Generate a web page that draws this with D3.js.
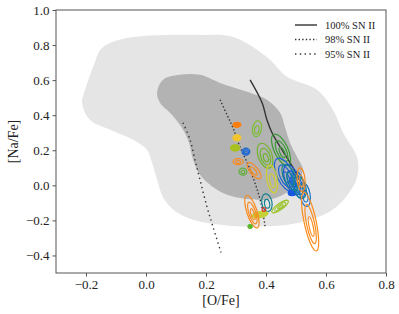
<!DOCTYPE html>
<html>
<head>
<meta charset="utf-8">
<script src="https://cdn.jsdelivr.net/npm/d3@7"></script>
<style>
  body { margin: 0; background: #fff; }
  text { font-family: "Liberation Serif", "DejaVu Serif", serif; fill: #222; }
</style>
</head>
<body>
<div id="chart"></div>
<script>
// ticks
var xTicks = [-0.2, 0.0, 0.2, 0.4, 0.6, 0.8];
var yTicks = [-0.4, -0.2, 0.0, 0.2, 0.4, 0.6, 0.8, 1.0];

// outer (light) and inner (dark) density regions, [O/Fe], [Na/Fe]
var outerO  = [-0.153, -0.12, -0.043, 0.07, 0.18, 0.29, 0.403, 0.47, 0.57, 0.623, 0.657, 0.703, 0.707, 0.69, 0.623, 0.513, 0.347, 0.18, 0.137, 0.09, 0.057, 0.037, 0.017, 0.003, -0.043, -0.12, -0.187, -0.213, -0.203, -0.17];
var outerNa = [0.772, 0.812, 0.846, 0.858, 0.858, 0.846, 0.732, 0.619, 0.545, 0.431, 0.30, 0.163, 0.078, -0.008, -0.138, -0.212, -0.235, -0.207, -0.184, -0.138, -0.07, 0.032, 0.146, 0.203, 0.26, 0.317, 0.374, 0.47, 0.545, 0.704];
var innerO  = [0.037, 0.057, 0.113, 0.18, 0.247, 0.347, 0.403, 0.447, 0.463, 0.48, 0.503, 0.523, 0.503, 0.457, 0.403, 0.29, 0.237, 0.18, 0.157, 0.14, 0.113, 0.08, 0.047];
var innerNa = [0.528, 0.602, 0.63, 0.63, 0.584, 0.528, 0.488, 0.414, 0.334, 0.243, 0.163, 0.089, 0.015, -0.053, -0.082, -0.064, -0.025, 0.061, 0.146, 0.26, 0.345, 0.414, 0.47];

// model tracks
var sn100O  = [0.347, 0.387, 0.403, 0.42, 0.447, 0.48, 0.513];
var sn100Na = [0.602, 0.471, 0.374, 0.30, 0.22, 0.129, 0.032];
var sn98O   = [0.247, 0.27, 0.29, 0.313, 0.34, 0.363, 0.383, 0.397];
var sn98Na  = [0.488, 0.402, 0.328, 0.22, 0.118, 0.015, -0.099, -0.235];
var sn95O   = [0.123, 0.147, 0.163, 0.18, 0.203, 0.223, 0.25];
var sn95Na  = [0.357, 0.26, 0.146, 0.032, -0.121, -0.235, -0.383];

var legendLabels = ["100% SN II", "98% SN II", "95% SN II"];

// star contours: centre, half widths (dex), tilt (deg), colour, rings, filled
var starO     = [0.303, 0.303, 0.297, 0.333, 0.307, 0.323, 0.36, 0.37, 0.397, 0.45, 0.463, 0.487, 0.507, 0.53, 0.487, 0.403, 0.513, 0.48, 0.42, 0.38, 0.447, 0.353, 0.517, 0.547, 0.347, 0.393];
var starNa    = [0.345, 0.271, 0.214, 0.192, 0.135, 0.078, 0.083, 0.323, 0.169, 0.203, 0.061, 0.032, 0.004, -0.053, -0.042, -0.099, -0.013, 0.044, 0.036, -0.167, -0.121, -0.15, 0.032, -0.207, -0.235, -0.138];
var starSO    = [0.013, 0.013, 0.015, 0.013, 0.017, 0.013, 0.033, 0.015, 0.023, 0.023, 0.027, 0.023, 0.02, 0.017, 0.013, 0.017, 0.02, 0.02, 0.017, 0.027, 0.033, 0.017, 0.013, 0.02, 0.007, 0.006];
var starSNa   = [0.014, 0.017, 0.017, 0.02, 0.017, 0.02, 0.023, 0.046, 0.074, 0.097, 0.102, 0.091, 0.08, 0.068, 0.017, 0.051, 0.063, 0.08, 0.08, 0.017, 0.017, 0.097, 0.068, 0.171, 0.011, 0.011];
var starTilt  = [0, 0, 0, 0, 0, 0, 51, 10, -20, -25, -25, -20, -15, -10, 0, -10, -15, -25, -10, -10, -35, -18, -5, -12, 0, 0];
var starColor = ["#fa7f12", "#f2c531", "#a9c11f", "#1966d2", "#f98a1f", "#5fae36", "#f98a1f", "#7dbe33", "#6fb52c", "#3c9c37", "#1b63d6", "#1d58cf", "#1a6ad0", "#1c72c8", "#1657e0", "#14808e", "#147f91", "#15878a", "#cfcf2c", "#c6d03a", "#9cc42a", "#f98a1f", "#f98a1f", "#fb8c1d", "#5cb82e", "#e8321e"];
var starRings = [3, 3, 3, 3, 2, 2, 2, 2, 3, 3, 3, 3, 3, 2, 2, 2, 2, 2, 2, 1, 3, 3, 2, 3, 1, 1];
var starFill  = [1, 1, 1, 0, 0, 0, 0, 0, 0, 0, 0, 0, 0, 0, 1, 0, 0, 0, 0, 1, 0, 0, 0, 0, 1, 0];

var width = 399, height = 314;
var margin = {top: 10, right: 13, bottom: 41, left: 56};

var svg = d3.select("#chart").append("svg")
  .attr("width", width)
  .attr("height", height);

var x = d3.scaleLinear().domain([-0.3, 0.8]).range([margin.left, width - margin.right]);
var y = d3.scaleLinear().domain([-0.5, 1.0]).range([height - margin.bottom, margin.top]);

svg.append("clipPath")
  .attr("id", "plotClip")
  .append("rect")
    .attr("x", x(-0.3))
    .attr("y", y(1.0))
    .attr("width", x(0.8) - x(-0.3))
    .attr("height", y(-0.5) - y(1.0));

var plot = svg.append("g").attr("clip-path", "url(#plotClip)");

function blob(os, nas, color) {
  var pts = os.map(function(o, i) { return [x(o), y(nas[i])]; });
  plot.append("path")
    .attr("d", d3.line().curve(d3.curveCatmullRomClosed.alpha(0.5))(pts))
    .attr("fill", color)
    .attr("stroke", "none");
}

blob(outerO, outerNa, "#e5e5e5");
blob(innerO, innerNa, "#b3b3b3");

function track(os, nas, dash) {
  var pts = os.map(function(o, i) { return [x(o), y(nas[i])]; });
  plot.append("path")
    .attr("d", d3.line().curve(d3.curveCatmullRom)(pts))
    .attr("fill", "none")
    .attr("stroke", "#333")
    .attr("stroke-width", 1.4)
    .attr("stroke-dasharray", dash);
}

track(sn100O, sn100Na, null);
track(sn98O, sn98Na, "1.4,2.2");
track(sn95O, sn95Na, "1.4,3.4");

// contours for each star
starO.forEach(function(o, i) {
  var cx = x(o), cy = y(starNa[i]);
  var rx = x(o + starSO[i]) - cx;
  var ry = cy - y(starNa[i] + starSNa[i]);
  var g = plot.append("g")
    .attr("transform", "translate(" + cx + "," + cy + ") rotate(" + starTilt[i] + ")");
  if (starFill[i]) {
    g.append("ellipse")
      .attr("rx", rx).attr("ry", ry)
      .attr("fill", starColor[i])
      .attr("stroke", starColor[i])
      .attr("stroke-width", 0.8);
  }
  for (var k = 0; k < starRings[i]; k++) {
    var f = 1 - k / starRings[i];
    g.append("ellipse")
      .attr("cx", 0)
      .attr("cy", ry * (1 - f) * 0.25)
      .attr("rx", rx * f)
      .attr("ry", ry * f)
      .attr("fill", "none")
      .attr("stroke", starColor[i])
      .attr("stroke-width", 1.2);
  }
});

// frame
svg.append("rect")
  .attr("x", x(-0.3))
  .attr("y", y(1.0))
  .attr("width", x(0.8) - x(-0.3))
  .attr("height", y(-0.5) - y(1.0))
  .attr("fill", "none")
  .attr("stroke", "#555")
  .attr("stroke-width", 1);

var fmt = function(d) { return d3.format(".1f")(d).replace("-", "\u2212"); };

var xAxis = svg.append("g")
  .attr("transform", "translate(0," + y(-0.5) + ")")
  .call(d3.axisBottom(x).tickValues(xTicks).tickFormat(fmt).tickSize(3.5).tickPadding(3));
var yAxis = svg.append("g")
  .attr("transform", "translate(" + x(-0.3) + ",0)")
  .call(d3.axisLeft(y).tickValues(yTicks).tickFormat(fmt).tickSize(3.5).tickPadding(3));

[xAxis, yAxis].forEach(function(a) {
  a.select(".domain").remove();
  a.selectAll("line").attr("stroke", "#555");
  a.selectAll("text")
    .style("font-family", '"Liberation Serif", "DejaVu Serif", serif')
    .style("font-size", "13px")
    .attr("fill", "#222");
});

svg.append("text")
  .attr("x", (x(-0.3) + x(0.8)) / 2)
  .attr("y", 305)
  .attr("text-anchor", "middle")
  .style("font-size", "14px")
  .text("[O/Fe]");

svg.append("text")
  .attr("transform", "translate(18," + (y(-0.5) + y(1.0)) / 2 + ") rotate(-90)")
  .attr("text-anchor", "middle")
  .style("font-size", "14px")
  .text("[Na/Fe]");

// legend
var legendDash = [null, "1.4,2.2", "1.4,3.4"];
var legend = svg.append("g").attr("transform", "translate(295,25)");
legendLabels.forEach(function(lab, i) {
  var row = legend.append("g").attr("transform", "translate(0," + (i * 14.5) + ")");
  row.append("line")
    .attr("x1", 0).attr("x2", 22)
    .attr("stroke", "#333")
    .attr("stroke-width", 1.4)
    .attr("stroke-dasharray", legendDash[i]);
  row.append("text")
    .attr("x", 30)
    .attr("y", 3.5)
    .style("font-size", "10.5px")
    .text(lab);
});
</script>
</body>
</html>
